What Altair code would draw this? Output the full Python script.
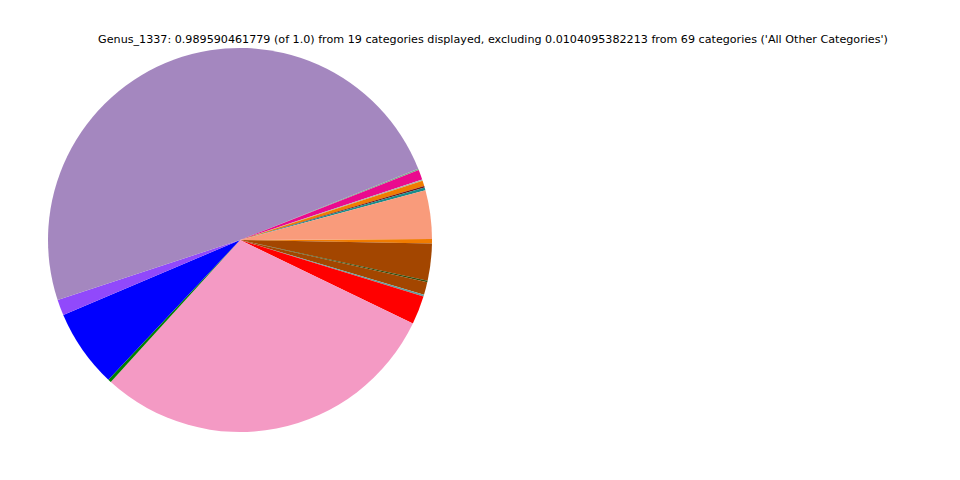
import math
import altair as alt
import pandas as pd

# Slices listed clockwise starting just above the 3 o'clock position
categories = [
    "Cat_A", "Cat_B", "Cat_C", "Cat_D", "Cat_E", "Cat_F", "Cat_G", "Cat_H", "Cat_I",
    "Cat_J", "Cat_K", "Cat_L", "Cat_M", "Cat_N", "Cat_O", "Cat_P", "Cat_Q", "Cat_R",
]
# shares (in degrees of arc)
shares = [1.35, 11.2, 0.5, 3.85, 0.55, 8.65, 106.5, 1.0, 23.7, 4.8, 176.4, 0.4, 3.0, 0.4, 1.7, 0.4, 0.9, 14.7]
colors = [
    "#f07c00", "#a34600", "#2f4f0f", "#a34600", "#5f9ea0", "#ff0000", "#f49ac4", "#008000",
    "#0000ff", "#9149fb", "#a487bf", "#7aaa8c", "#ea0a8e", "#a8b4a8", "#f07c00", "#7a1010",
    "#1a8c8c", "#f99b7b",
]
title_text = ("Genus_1337: 0.989590461779 (of 1.0) from 19 categories displayed, excluding "
              "0.0104095382213 from 69 categories ('All Other Categories')")

df = pd.DataFrame({"category": categories, "share": shares, "order": list(range(len(categories)))})

start = math.radians(89.7)
pie = alt.Chart(df).mark_arc(outerRadius=192, strokeWidth=0).encode(
    theta=alt.Theta("share:Q", stack=True, scale=alt.Scale(range=[start, start + 2 * math.pi])),
    color=alt.Color("category:N", scale=alt.Scale(domain=categories, range=colors), legend=None),
    order=alt.Order("order:Q"),
    x=alt.value(232),
    y=alt.value(232),
)

title = alt.Chart(pd.DataFrame({"t": [title_text]})).mark_text(
    font="DejaVu Sans", fontSize=11.15, color="black", align="center", baseline="middle"
).encode(text="t:N", x=alt.value(485), y=alt.value(31.5))

chart = alt.layer(pie, title).properties(
    width=944, height=464, padding=0, autosize=alt.AutoSizeParams(type="none")
).configure_view(stroke=None)

chart.save("out.html", embed_options={"renderer": "svg", "actions": False})
